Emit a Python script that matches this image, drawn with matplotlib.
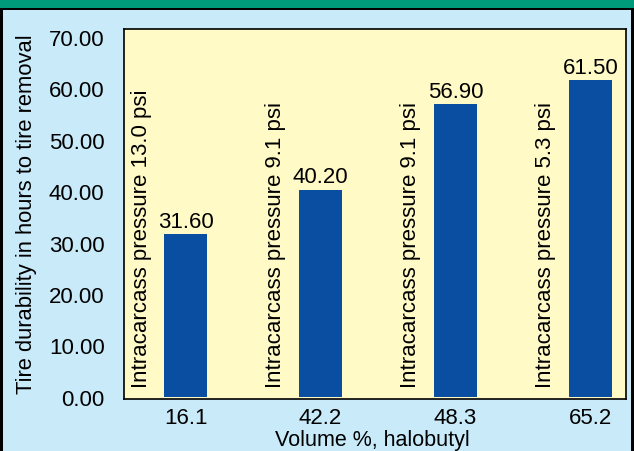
import matplotlib
matplotlib.use("Agg")
import matplotlib.pyplot as plt
from matplotlib.patches import Rectangle

plt.rcParams['font.family'] = ['Liberation Sans', 'DejaVu Sans']

# data
volume_labels = ['16.1', '42.2', '48.3', '65.2']
durability = [31.60, 40.20, 56.90, 61.50]
pressure_notes = ['Intracarcass pressure 13.0 psi',
                  'Intracarcass pressure 9.1 psi',
                  'Intracarcass pressure 9.1 psi',
                  'Intracarcass pressure 5.3 psi']
y_ticks = [0, 10, 20, 30, 40, 50, 60, 70]

bg_blue = '#C8EAF9'
plot_yellow = '#FFFAC6'
bar_blue = '#0A4EA2'
band_green = '#009B7A'

fig = plt.figure(figsize=(6.34, 4.52), dpi=100)
fig.patch.set_facecolor(bg_blue)

# green band and frame at the top
fig.patches.append(Rectangle((0, 1 - 9 / 452), 1, 9 / 452, transform=fig.transFigure,
                             facecolor=band_green, edgecolor='none', zorder=0))
fig.patches.append(Rectangle((0, 1 - 11 / 452), 1, 2 / 452, transform=fig.transFigure,
                             facecolor='black', edgecolor='none', zorder=0))
fig.patches.append(Rectangle((0, 0), 3 / 634, 1 - 9 / 452, transform=fig.transFigure,
                             facecolor='black', edgecolor='none', zorder=0))
fig.patches.append(Rectangle((1 - 3 / 634, 0), 3 / 634, 1 - 9 / 452, transform=fig.transFigure,
                             facecolor='black', edgecolor='none', zorder=0))

ax = fig.add_axes([124 / 634, 52 / 452, 502 / 634, 370 / 452])
ax.set_facecolor(plot_yellow)

x = list(range(len(durability)))
ax.bar(x, durability, width=0.315, color=bar_blue, zorder=2)

fs = 16
for i, v in enumerate(durability):
    ax.text(i, v + 0.5, '%.2f' % v, ha='center', va='bottom', fontsize=fs, zorder=3)
    ax.text(i - 0.33, 2.0, pressure_notes[i], rotation=90, ha='center', va='bottom',
            fontsize=16, zorder=3)

ax.set_xlim(-0.456, 3.263)
ax.set_ylim(-0.4, 71.5)
ax.set_yticks(y_ticks)
ax.set_yticklabels(['%.2f' % t for t in y_ticks], fontsize=fs)
ax.set_xticks(x)
ax.set_xticklabels(volume_labels, fontsize=fs)
ax.tick_params(axis='both', length=0)
ax.tick_params(axis='y', pad=14)
ax.tick_params(axis='x', pad=6)
for s in ax.spines.values():
    s.set_linewidth(1.2)
    s.set_color('black')

fig.text(27 / 634, 1 - 214 / 452, 'Tire durability in hours to tire removal', rotation=90,
         ha='center', va='center', fontsize=15.8)
fig.text(372 / 634, 1 - 446 / 452, 'Volume %, halobutyl', ha='center', va='baseline', fontsize=15.5)

fig.savefig('out.png', dpi=100, facecolor=fig.get_facecolor())
